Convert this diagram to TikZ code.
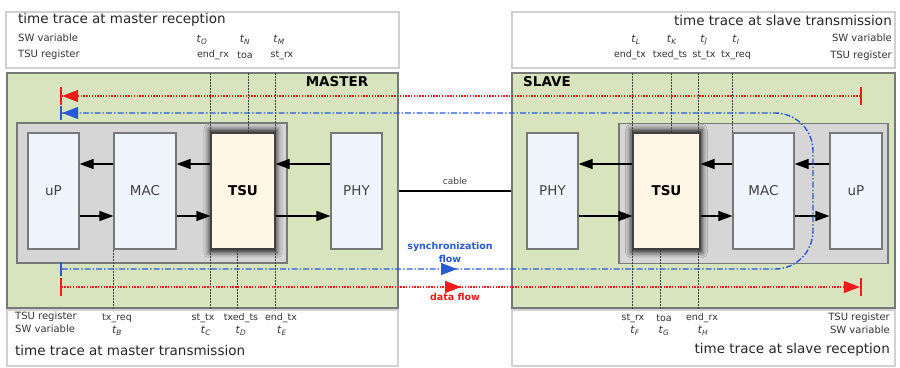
\documentclass[tikz,border=0pt]{standalone}
\usepackage{fontspec}
\setmainfont{DejaVu Sans}
\usepackage{xcolor}
\usetikzlibrary{positioning,arrows.meta,decorations.markings,shadows.blur}

\definecolor{panelgreen}{RGB}{216,228,189}
\definecolor{innergray}{RGB}{214,214,214}
\definecolor{edgegray}{RGB}{120,120,120}
\definecolor{blockfill}{RGB}{239,245,252}
\definecolor{tsufill}{RGB}{255,246,229}
\definecolor{datared}{RGB}{245,25,25}
\definecolor{syncblue}{RGB}{40,90,215}

\newcommand{\tvar}[1]{\textit{t}\textsubscript{\textit{#1}}}

\begin{document}
\begin{tikzpicture}[
  x=1pt, y=-1pt,
  trace/.style={draw=black!18, fill=white, line width=1.4pt, minimum height=56pt, inner sep=0pt},
  panel/.style={draw=edgegray, fill=panelgreen, line width=1.2pt, minimum height=235pt, inner sep=0pt},
  innerbox/.style={draw=edgegray, fill=innergray, line width=1.2pt, minimum height=140pt, inner sep=0pt},
  block/.style={draw=edgegray, fill=blockfill, line width=1.2pt, minimum height=116pt, inner sep=0pt,
    font=\fontsize{13.5}{16}\selectfont, text=black!75},
  tsublock/.style={block, fill=tsufill, draw=black!75, text=black,
    blur shadow={shadow xshift=0pt, shadow yshift=0pt, shadow blur radius=5pt, shadow scale=1.06, shadow opacity=85}},
  title/.style={inner sep=0pt, font=\fontsize{13.5}{16}\selectfont, text=black!85},
  lbl/.style={inner sep=0pt, font=\fontsize{10}{12}\selectfont, text=black!80},
  reg/.style={inner sep=0pt, font=\fontsize{9.5}{11}\selectfont, text=black!80},
  tlab/.style={inner sep=0pt, font=\fontsize{10.5}{12}\selectfont, text=black!80},
  link/.style={line width=1.2pt, -{Triangle[length=14pt,width=10pt]}},
  marker/.style={line width=0.6pt, black!75, dash pattern=on 2pt off 1pt},
  dataflow/.style={datared, line width=1.4pt, dash pattern=on 1.4pt off 1.4pt},
  syncflow/.style={syncblue, line width=1.4pt, dash pattern=on 6pt off 2pt on 1.5pt off 2pt},
  midarrow/.style={decoration={markings,
    mark=at position #1 with {\arrow{Triangle[length=16pt,width=12pt]}}}, postaction={decorate}}
]
\useasboundingbox (0,0) rectangle (900,367);

% time trace boxes
\node[trace, minimum width=393pt] (mrx) at (202.5,40) {};
\node[trace, minimum width=391pt] (mtx) at (202.5,338) {};
\node[trace, minimum width=383pt] (stx) at (703.5,40) {};
\node[trace, minimum width=383pt] (srx) at (703.5,338) {};

\node[panel, minimum width=391pt] (master) at (202.5,190.5) {};
\node[panel, minimum width=383pt] (slave) at (703.5,190.5) {};
\node[innerbox, minimum width=270pt] (mgray) at (152,193) {};
\node[innerbox, minimum width=269pt] (sgray) at (753.5,193.5) {};

\node[title, font=\fontsize{13.5}{16}\selectfont\bfseries, text=black] (mastername) at (337,82) {MASTER};
\node[title, font=\fontsize{13.5}{16}\selectfont\bfseries, text=black, anchor=west] (slavename) at (523,82) {SLAVE};

% master blocks
\node[block, minimum width=51pt] (upm) at (53.5,191) {uP};
\node[block, minimum width=62pt] (macm) at (145,191) {MAC};
\node[tsublock, minimum width=64pt] (tsum) at (243,191) {\textbf{TSU}};
\node[block, minimum width=51pt] (phym) at (356.5,191) {PHY};

% slave blocks
\node[block, minimum width=51pt] (phys) at (552.5,191) {PHY};
\node[tsublock, minimum width=67pt] (tsus) at (666.5,191) {\textbf{TSU}};
\node[block, minimum width=61pt] (macs) at (763.5,191) {MAC};
\node[block, minimum width=52pt] (ups) at (856,191) {uP};

% time stamp markers
\draw[marker] (tsum.north west) -- (tsum.north west |- master.north);
\draw[marker] ([xshift=5pt]tsum.north) -- ([xshift=5pt]tsum.north |- master.north);
\draw[marker] (tsum.north east) -- (tsum.north east |- master.north);
\draw[marker] (macm.south west) -- (macm.south west |- master.south);
\draw[marker] (tsum.south west) -- (tsum.south west |- master.south);
\draw[marker] ([xshift=-6pt]tsum.south) -- ([xshift=-6pt]tsum.south |- master.south);
\draw[marker] (tsum.south east) -- (tsum.south east |- master.south);

\draw[marker] (tsus.north west) -- (tsus.north west |- slave.north);
\draw[marker] ([xshift=4.5pt]tsus.north) -- ([xshift=4.5pt]tsus.north |- slave.north);
\draw[marker] ([xshift=-2pt]tsus.north east) -- ([xshift=-2pt]tsus.north east |- slave.north);
\draw[marker] (macs.north west) -- (macs.north west |- slave.north);
\draw[marker] (tsus.south west) -- (tsus.south west |- slave.south);
\draw[marker] ([xshift=-6.5pt]tsus.south) -- ([xshift=-6.5pt]tsus.south |- slave.south);
\draw[marker] ([xshift=-2pt]tsus.south east) -- ([xshift=-2pt]tsus.south east |- slave.south);

% internal links
\draw[link] ([yshift=27pt]macm.west) -- ([yshift=27pt]upm.east);
\draw[link] ([yshift=27pt]tsum.west) -- ([yshift=27pt]macm.east);
\draw[link] ([yshift=27pt]phym.west) -- ([yshift=27pt]tsum.east);
\draw[link] ([yshift=-25pt]upm.east) -- ([yshift=-25pt]macm.west);
\draw[link] ([yshift=-25pt]macm.east) -- ([yshift=-25pt]tsum.west);
\draw[link] ([yshift=-25pt]tsum.east) -- ([yshift=-25pt]phym.west);

\draw[link] ([yshift=27pt]tsus.west) -- ([yshift=27pt]phys.east);
\draw[link] ([yshift=27pt]macs.west) -- ([yshift=27pt]tsus.east);
\draw[link] ([yshift=27pt]ups.west) -- ([yshift=27pt]macs.east);
\draw[link] ([yshift=-25pt]phys.east) -- ([yshift=-25pt]tsus.west);
\draw[link] ([yshift=-25pt]tsus.east) -- ([yshift=-25pt]macs.west);
\draw[link] ([yshift=-25pt]macs.east) -- ([yshift=-25pt]ups.west);

% cable
\draw[line width=2.2pt] (master.east |- phym) -- (slave.west |- phys) node[midway, above=2pt, font=\fontsize{9}{11}\selectfont, text=black!75] (cablelbl) {cable};

% flows
\coordinate (dataend) at (862,96);
\coordinate (datahome) at (60,96);
\coordinate (datatx) at (60,287);
\coordinate (datarx) at (862,287);
\coordinate (synctx) at (60,269);
\coordinate (syncturn) at (813,269);
\coordinate (syncback) at (813,113);
\coordinate (synchome) at (60,113);

\draw[dataflow, {Bar[width=18pt,line width=2.2pt]}-{Triangle[length=16pt,width=12pt]Bar[width=18pt,line width=2.2pt]}] (dataend) -- (datahome);
\draw[dataflow, midarrow=0.5, {Bar[width=18pt,line width=2.2pt]}-{Triangle[length=16pt,width=12pt]Bar[width=18pt,line width=2.2pt]}] (datatx) -- (datarx);
\draw[syncflow, midarrow=397pt, rounded corners=38pt, {Bar[width=14pt,line width=2.2pt]}-{Triangle[length=16pt,width=12pt]Bar[width=14pt,line width=2.2pt]}]
  (synctx) -- (syncturn) -- (syncback) -- (synchome);

\node[align=center, font=\fontsize{9.5}{13}\selectfont\bfseries, text=syncblue] (synclbl) at (450,252) {synchronization\\flow};
\node[font=\fontsize{9.5}{11}\selectfont\bfseries, text=datared] (datalbl) at (455,297) {data flow};

% master reception trace
\node[title, anchor=west] (mrxtitle) at (18,20) {time trace at master reception};
\node[lbl, anchor=west] (mrxsw) at (18,38) {SW variable};
\node[lbl, anchor=west] (mrxreg) at (18,55) {TSU register};
\node[tlab] (tO) at (202,40) {\tvar{O}};
\node[reg] (endrxm) at (213,55) {end\_rx};
\node[tlab] (tN) at (245,40) {\tvar{N}};
\node[reg] (toam) at (245,55) {toa};
\node[tlab] (tM) at (279,40) {\tvar{M}};
\node[reg] (strxm) at (282,55) {st\_rx};

% master transmission trace
\node[lbl, anchor=west] (mtxreg) at (15,317) {TSU register};
\node[lbl, anchor=west] (mtxsw) at (15,329) {SW variable};
\node[title, anchor=west] (mtxtitle) at (15,350) {time trace at master transmission};
\node[reg] (txreqm) at (117,318) {tx\_req};
\node[tlab] (tB) at (117,331) {\tvar{B}};
\node[reg] (sttxm) at (203,318) {st\_tx};
\node[tlab] (tC) at (206,331) {\tvar{C}};
\node[reg] (txedm) at (241,318) {txed\_ts};
\node[tlab] (tD) at (241,331) {\tvar{D}};
\node[reg] (endtxm) at (281,318) {end\_tx};
\node[tlab] (tE) at (282,331) {\tvar{E}};

% slave transmission trace
\node[title, anchor=east] (stxtitle) at (892,20) {time trace at slave transmission};
\node[lbl, anchor=east] (stxsw) at (892,38) {SW variable};
\node[lbl, anchor=east] (stxreg) at (892,56) {TSU register};
\node[tlab] (tL) at (636,40) {\tvar{L}};
\node[reg] (endtxs) at (630,55) {end\_tx};
\node[tlab] (tK) at (672,40) {\tvar{K}};
\node[reg] (txeds) at (670,55) {txed\_ts};
\node[tlab] (tJ) at (704,40) {\tvar{J}};
\node[reg] (sttxs) at (704,55) {st\_tx};
\node[tlab] (tI) at (736,40) {\tvar{I}};
\node[reg] (txreqs) at (736,55) {tx\_req};

% slave reception trace
\node[lbl, anchor=east] (srxreg) at (890,318) {TSU register};
\node[lbl, anchor=east] (srxsw) at (890,330) {SW variable};
\node[title, anchor=east] (srxtitle) at (890,350) {time trace at slave reception};
\node[reg] (strxs) at (633,318) {st\_rx};
\node[tlab] (tF) at (635,331) {\tvar{F}};
\node[reg] (toas) at (664,318) {toa};
\node[tlab] (tG) at (664,331) {\tvar{G}};
\node[reg] (endrxs) at (702,318) {end\_rx};
\node[tlab] (tH) at (703,331) {\tvar{H}};

\end{tikzpicture}
\end{document}
